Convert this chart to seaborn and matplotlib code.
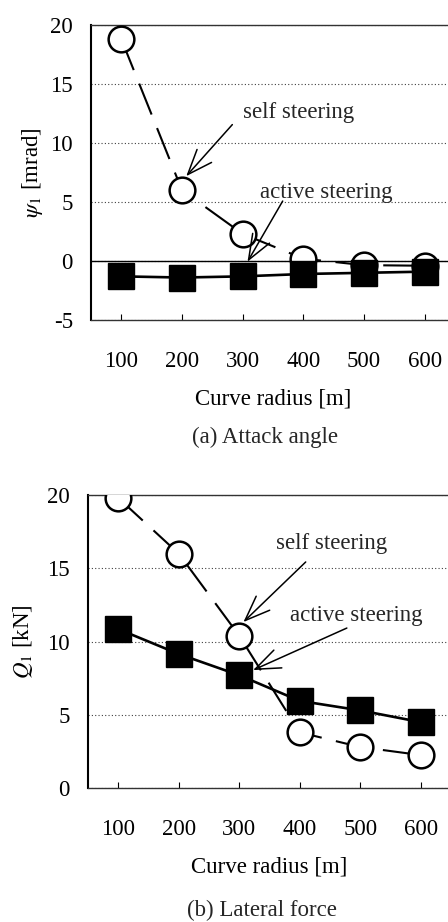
import matplotlib
matplotlib.use("Agg")
import matplotlib.pyplot as plt
import seaborn as sns
import pandas as pd

# ---- data ----
radius = ["100", "200", "300", "400", "500", "600"]
attack_self = [18.8, 6.0, 2.3, 0.2, -0.35, -0.4]
attack_active = [-1.3, -1.4, -1.3, -1.1, -1.0, -0.9]
lateral_self = [19.8, 16.0, 10.4, 3.8, 2.8, 2.25]
lateral_active = [10.85, 9.15, 7.7, 5.95, 5.3, 4.5]

sns.set_theme(style="white")
plt.rcParams['font.family'] = ['Liberation Serif', 'DejaVu Serif']
plt.rcParams['mathtext.fontset'] = 'stix'
plt.rcParams['axes.unicode_minus'] = False

FS = 16.5
fig = plt.figure(figsize=(4.48, 9.22), dpi=100)
ax1 = fig.add_axes([0.2031, 0.6529, 0.8125, 0.3200])
ax2 = fig.add_axes([0.1964, 0.1453, 0.8100, 0.3178])


def draw(ax, self_vals, active_vals):
    df_s = pd.DataFrame({"r": radius, "v": self_vals})
    df_a = pd.DataFrame({"r": radius, "v": active_vals})
    sns.lineplot(data=df_s, x="r", y="v", ax=ax, color="black", lw=1.5,
                 linestyle=(0, (16, 7)), marker="o", markersize=18.5,
                 markerfacecolor="white", markeredgecolor="black",
                 markeredgewidth=1.8, sort=False, zorder=3)
    sns.lineplot(data=df_a, x="r", y="v", ax=ax, color="black", lw=1.9,
                 marker="s", markersize=18.5, markerfacecolor="black",
                 markeredgecolor="black", markeredgewidth=1.0,
                 sort=False, zorder=4)
    ax.set_xlim(-0.5, 5.5)
    ax.grid(False)
    ax.yaxis.grid(True, color="0.25", lw=0.8, linestyle=(0, (1, 2)))
    for s in ["top", "bottom"]:
        ax.spines[s].set_linestyle((0, (1, 1)))
        ax.spines[s].set_color("0.2")
        ax.spines[s].set_linewidth(1.0)
    ax.spines["left"].set_color("black")
    ax.spines["left"].set_linewidth(1.5)
    ax.spines["right"].set_visible(False)
    ax.tick_params(axis="x", direction="in", length=4, width=0.8,
                   pad=22, labelsize=FS, colors="black", bottom=True)
    ax.tick_params(axis="y", length=0, pad=13, labelsize=FS, colors="black")
    ax.set_xlabel("Curve radius [m]", fontsize=FS, labelpad=12, color="black")


draw(ax1, attack_self, attack_active)
ax1.set_ylim(-5, 20)
ax1.set_yticks([-5, 0, 5, 10, 15, 20])
ax1.axhline(0, color="black", lw=1.0, zorder=2)
ax1.set_ylabel(r"$\psi_1$ [mrad]", fontsize=FS, labelpad=4, color="black")

draw(ax2, lateral_self, lateral_active)
ax2.set_ylim(0, 20)
ax2.set_yticks([0, 5, 10, 15, 20])
ax2.set_ylabel(r"$Q_1$ [kN]", fontsize=FS, labelpad=9, color="black")

arrow = dict(arrowstyle="->,head_length=0.9,head_width=0.35", color="black",
             lw=1.1, mutation_scale=20, shrinkA=0, shrinkB=0)

# top annotations
ax1.text(2.92, 12.55, "self steering", fontsize=FS, ha="center", va="center")
ax1.annotate("", xy=(1.07, 7.19), xytext=(1.83, 11.56), arrowprops=arrow)
ax1.text(3.37, 5.84, "active steering", fontsize=FS, ha="center", va="center")
ax1.annotate("", xy=(2.08, -0.06), xytext=(2.66, 5.08), arrowprops=arrow)

# bottom annotations
ax2.text(3.53, 16.72, "self steering", fontsize=FS, ha="center", va="center")
ax2.annotate("", xy=(2.07, 11.33), xytext=(3.10, 15.43), arrowprops=arrow)
ax2.text(3.93, 11.81, "active steering", fontsize=FS, ha="center", va="center")
ax2.annotate("", xy=(2.23, 8.05), xytext=(3.78, 10.92), arrowprops=arrow)

fig.text(265 / 448, 1 - 437 / 922, "(a) Attack angle", fontsize=FS,
         ha="center", va="center")
fig.text(262 / 448, 1 - 910 / 922, "(b) Lateral force", fontsize=FS,
         ha="center", va="center")

fig.savefig("out.png", dpi=100)
